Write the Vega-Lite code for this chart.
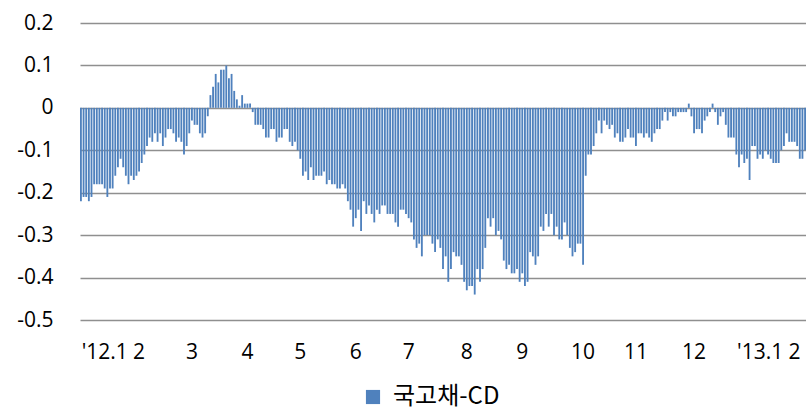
{
  "$schema": "https://vega.github.io/schema/vega-lite/v6.json",
  "width": 726,
  "height": 297,
  "autosize": {"type": "none"},
  "padding": {"left": 80, "top": 23, "right": 0, "bottom": 100},
  "background": "white",
  "data": {"values": [
    {"i":0,"v":-0.22},{"i":1,"v":-0.21},{"i":2,"v":-0.21},{"i":3,"v":-0.22},{"i":4,"v":-0.21},{"i":5,"v":-0.18},{"i":6,"v":-0.18},{"i":7,"v":-0.18},{"i":8,"v":-0.18},{"i":9,"v":-0.19},
    {"i":10,"v":-0.21},{"i":11,"v":-0.19},{"i":12,"v":-0.19},{"i":13,"v":-0.16},{"i":14,"v":-0.14},{"i":15,"v":-0.12},{"i":16,"v":-0.14},{"i":17,"v":-0.16},{"i":18,"v":-0.18},{"i":19,"v":-0.16},
    {"i":20,"v":-0.17},{"i":21,"v":-0.16},{"i":22,"v":-0.15},{"i":23,"v":-0.13},{"i":24,"v":-0.11},{"i":25,"v":-0.09},{"i":26,"v":-0.07},{"i":27,"v":-0.08},{"i":28,"v":-0.06},{"i":29,"v":-0.08},
    {"i":30,"v":-0.06},{"i":31,"v":-0.09},{"i":32,"v":-0.07},{"i":33,"v":-0.05},{"i":34,"v":-0.05},{"i":35,"v":-0.06},{"i":36,"v":-0.08},{"i":37,"v":-0.07},{"i":38,"v":-0.08},{"i":39,"v":-0.11},
    {"i":40,"v":-0.09},{"i":41,"v":-0.06},{"i":42,"v":-0.03},{"i":43,"v":-0.04},{"i":44,"v":-0.04},{"i":45,"v":-0.06},
    {"i":46,"v":-0.07},{"i":47,"v":-0.06},{"i":48,"v":-0.02},{"i":49,"v":0.03},{"i":50,"v":0.05},{"i":51,"v":0.08},{"i":52,"v":0.06},{"i":53,"v":0.09},{"i":54,"v":0.09},{"i":55,"v":0.10},
    {"i":56,"v":0.07},{"i":57,"v":0.08},{"i":58,"v":0.04},{"i":59,"v":0.02},{"i":60,"v":0.005},{"i":61,"v":0.03},{"i":62,"v":0.01},{"i":63,"v":0.01},{"i":64,"v":0.01},{"i":65,"v":-0.01},
    {"i":66,"v":-0.04},{"i":67,"v":-0.04},{"i":68,"v":-0.04},{"i":69,"v":-0.05},{"i":70,"v":-0.07},{"i":71,"v":-0.07},{"i":72,"v":-0.05},{"i":73,"v":-0.05},{"i":74,"v":-0.08},{"i":75,"v":-0.07},
    {"i":76,"v":-0.07},{"i":77,"v":-0.05},{"i":78,"v":-0.05},{"i":79,"v":-0.08},{"i":80,"v":-0.09},{"i":81,"v":-0.08},{"i":82,"v":-0.10},{"i":83,"v":-0.12},{"i":84,"v":-0.16},{"i":85,"v":-0.15},
    {"i":86,"v":-0.17},{"i":87,"v":-0.14},{"i":88,"v":-0.17},{"i":89,"v":-0.16},{"i":90,"v":-0.16},{"i":91,"v":-0.16},
    {"i":92,"v":-0.15},{"i":93,"v":-0.18},{"i":94,"v":-0.17},{"i":95,"v":-0.18},{"i":96,"v":-0.18},{"i":97,"v":-0.19},{"i":98,"v":-0.19},{"i":99,"v":-0.18},{"i":100,"v":-0.19},{"i":101,"v":-0.22},
    {"i":102,"v":-0.24},{"i":103,"v":-0.28},{"i":104,"v":-0.26},{"i":105,"v":-0.24},{"i":106,"v":-0.29},{"i":107,"v":-0.22},{"i":108,"v":-0.25},{"i":109,"v":-0.23},{"i":110,"v":-0.25},{"i":111,"v":-0.27},
    {"i":112,"v":-0.24},{"i":113,"v":-0.25},{"i":114,"v":-0.23},{"i":115,"v":-0.23},{"i":116,"v":-0.25},{"i":117,"v":-0.25},{"i":118,"v":-0.25},{"i":119,"v":-0.27},{"i":120,"v":-0.28},{"i":121,"v":-0.24},
    {"i":122,"v":-0.24},{"i":123,"v":-0.25},{"i":124,"v":-0.26},{"i":125,"v":-0.27},{"i":126,"v":-0.31},{"i":127,"v":-0.33},{"i":128,"v":-0.32},{"i":129,"v":-0.35},{"i":130,"v":-0.30},{"i":131,"v":-0.30},
    {"i":132,"v":-0.30},{"i":133,"v":-0.32},{"i":134,"v":-0.34},{"i":135,"v":-0.31},{"i":136,"v":-0.33},{"i":137,"v":-0.38},
    {"i":138,"v":-0.35},{"i":139,"v":-0.41},{"i":140,"v":-0.38},{"i":141,"v":-0.34},{"i":142,"v":-0.35},{"i":143,"v":-0.35},{"i":144,"v":-0.37},{"i":145,"v":-0.41},{"i":146,"v":-0.43},{"i":147,"v":-0.42},
    {"i":148,"v":-0.42},{"i":149,"v":-0.44},{"i":150,"v":-0.38},{"i":151,"v":-0.41},{"i":152,"v":-0.38},{"i":153,"v":-0.33},{"i":154,"v":-0.26},{"i":155,"v":-0.28},{"i":156,"v":-0.26},{"i":157,"v":-0.30},
    {"i":158,"v":-0.29},{"i":159,"v":-0.31},{"i":160,"v":-0.36},{"i":161,"v":-0.38},{"i":162,"v":-0.37},{"i":163,"v":-0.39},{"i":164,"v":-0.39},{"i":165,"v":-0.38},{"i":166,"v":-0.41},{"i":167,"v":-0.39},
    {"i":168,"v":-0.42},{"i":169,"v":-0.41},{"i":170,"v":-0.34},{"i":171,"v":-0.35},{"i":172,"v":-0.37},{"i":173,"v":-0.35},{"i":174,"v":-0.28},{"i":175,"v":-0.29},{"i":176,"v":-0.25},{"i":177,"v":-0.28},
    {"i":178,"v":-0.25},{"i":179,"v":-0.30},{"i":180,"v":-0.28},{"i":181,"v":-0.31},{"i":182,"v":-0.31},
    {"i":183,"v":-0.27},{"i":184,"v":-0.30},{"i":185,"v":-0.33},{"i":186,"v":-0.35},{"i":187,"v":-0.34},{"i":188,"v":-0.32},{"i":189,"v":-0.32},{"i":190,"v":-0.37},{"i":191,"v":-0.16},{"i":192,"v":-0.11},
    {"i":193,"v":-0.11},{"i":194,"v":-0.09},{"i":195,"v":-0.06},{"i":196,"v":-0.03},{"i":197,"v":-0.06},{"i":198,"v":-0.03},{"i":199,"v":-0.04},{"i":200,"v":-0.05},{"i":201,"v":-0.04},{"i":202,"v":-0.07},
    {"i":203,"v":-0.06},{"i":204,"v":-0.08},{"i":205,"v":-0.08},{"i":206,"v":-0.07},{"i":207,"v":-0.05},{"i":208,"v":-0.07},{"i":209,"v":-0.07},{"i":210,"v":-0.09},{"i":211,"v":-0.06},{"i":212,"v":-0.06},
    {"i":213,"v":-0.07},{"i":214,"v":-0.06},{"i":215,"v":-0.07},{"i":216,"v":-0.08},{"i":217,"v":-0.06},{"i":218,"v":-0.05},{"i":219,"v":-0.05},{"i":220,"v":-0.03},{"i":221,"v":-0.01},{"i":222,"v":-0.03},
    {"i":223,"v":-0.01},{"i":224,"v":-0.02},{"i":225,"v":-0.02},{"i":226,"v":-0.01},{"i":227,"v":-0.01},
    {"i":228,"v":-0.01},{"i":229,"v":-0.01},{"i":230,"v":0.01},{"i":231,"v":-0.02},{"i":232,"v":-0.06},{"i":233,"v":-0.05},{"i":234,"v":-0.05},{"i":235,"v":-0.06},{"i":236,"v":-0.03},{"i":237,"v":-0.02},
    {"i":238,"v":-0.01},{"i":239,"v":0.01},{"i":240,"v":-0.01},{"i":241,"v":-0.04},{"i":242,"v":-0.02},{"i":243,"v":-0.01},{"i":244,"v":-0.04},{"i":245,"v":-0.07},{"i":246,"v":-0.07},{"i":247,"v":-0.07},
    {"i":248,"v":-0.11},{"i":249,"v":-0.14},{"i":250,"v":-0.11},{"i":251,"v":-0.13},{"i":252,"v":-0.12},{"i":253,"v":-0.17},{"i":254,"v":-0.09},{"i":255,"v":-0.09},{"i":256,"v":-0.12},{"i":257,"v":-0.11},
    {"i":258,"v":-0.12},{"i":259,"v":-0.10},{"i":260,"v":-0.11},{"i":261,"v":-0.12},{"i":262,"v":-0.13},{"i":263,"v":-0.13},{"i":264,"v":-0.13},{"i":265,"v":-0.10},{"i":266,"v":-0.09},{"i":267,"v":-0.06},
    {"i":268,"v":-0.08},{"i":269,"v":-0.08},{"i":270,"v":-0.08},{"i":271,"v":-0.09},{"i":272,"v":-0.12},{"i":273,"v":-0.12},{"i":274,"v":-0.10}
  ]},
  "mark": {"type": "bar"},
  "encoding": {
    "x": {
      "field": "i",
      "type": "ordinal",
      "scale": {"paddingInner": 0.3, "paddingOuter": 0},
      "axis": {
        "title": null,
        "domain": false,
        "ticks": false,
        "grid": false,
        "labelAngle": 0,
        "labelAlign": "center",
        "labelBaseline": "middle",
        "labelPadding": 32,
        "labelOverlap": false,
        "values": [9, 22, 42, 63, 83, 104, 124, 146, 167, 190, 210, 232, 257, 270],
        "labelExpr": "({'9': \"'12.1\", '22': '2', '42': '3', '63': '4', '83': '5', '104': '6', '124': '7', '146': '8', '167': '9', '190': '10', '210': '11', '232': '12', '257': \"'13.1\", '270': '2'})[datum.value + '']"
      }
    },
    "y": {
      "field": "v",
      "type": "quantitative",
      "scale": {"domain": [-0.5, 0.2], "nice": false, "zero": false},
      "axis": {
        "title": null,
        "domain": false,
        "ticks": false,
        "tickSize": 0,
        "labelPadding": 27,
        "values": [-0.5, -0.4, -0.3, -0.2, -0.1, 0, 0.1, 0.2],
        "labelExpr": "datum.value + ''",
        "gridColor": "#8f8f8f",
        "gridWidth": 1.6,
        "gridOpacity": 1
      }
    },
    "color": {
      "datum": "국고채-CD",
      "type": "nominal",
      "scale": {"range": ["#4f81bd"]},
      "legend": {
        "title": null,
        "orient": "none",
        "legendX": 281,
        "legendY": 362,
        "symbolType": "square",
        "symbolSize": 200,
        "symbolStrokeWidth": 0,
        "labelFont": "Noto Sans CJK KR",
        "labelFontSize": 24,
        "labelColor": "#000000",
        "labelOffset": 8,
        "padding": 0
      }
    }
  },
  "config": {
    "view": {"stroke": null},
    "axis": {"labelFont": "Open Sans", "labelFontSize": 21, "labelColor": "#000000"}
  }
}
